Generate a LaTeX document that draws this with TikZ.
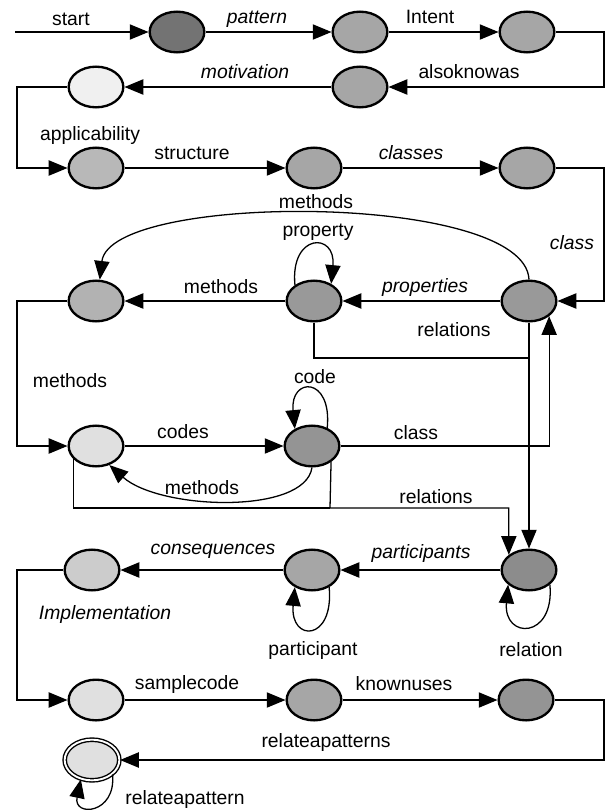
\documentclass[tikz,border=0pt]{standalone}
\usepackage{fontspec}
\setmainfont{Liberation Sans}
\usetikzlibrary{shapes.geometric,arrows.meta}
\begin{document}
\begin{tikzpicture}[x=0.03cm,y=-0.03cm,
	st/.style={ellipse,draw,line width=2pt,minimum width=1.64cm,minimum height=1.22cm,inner sep=0pt},
	dk/.style={st,fill=black!55},
	md/.style={st,fill=black!35},
	lt/.style={st,fill=black!12},
	lbl/.style={font=\fontsize{16.5}{18}\selectfont,inner sep=0pt},
	ilbl/.style={inner sep=0pt,font=\fontsize{16.5}{18}\selectfont\itshape},
	arr/.style={-{Triangle[length=16pt,width=13pt]},line width=1.1pt},
	ln/.style={line width=1.1pt}]
				\useasboundingbox (0,0) rectangle (611,810);

				% states
				\node[dk] (A) at (177,32) {};
				\node[md] (B) at (360,32) {};
				\node[md] (C) at (527,32) {};
				\node[md] (D) at (360,87) {};
				\node[lt,fill=black!6] (E) at (96,87) {};
				\node[md,fill=black!28] (F) at (96,168) {};
				\node[md] (G) at (314,168) {};
				\node[md] (H) at (527,168) {};
				\node[md,fill=black!40] (I) at (529,301) {};
				\node[md,fill=black!40] (J) at (314,301) {};
				\node[md,fill=black!30] (K) at (96,301) {};
				\node[lt] (L) at (96,446) {};
				\node[md,fill=black!42] (M) at (312,446) {};
				\node[dk,fill=black!45] (N) at (529,570) {};
				\node[md] (O) at (312,570) {};
				\node[lt,fill=black!20] (P) at (92,570) {};
				\node[lt] (Q) at (96,700) {};
				\node[md] (R) at (314,700) {};
				\node[md,fill=black!42] (S) at (526,700) {};
				\node[lt,double=white,double distance=1.6pt,line width=1.2pt] (T) at (92,760) {};

				\coordinate (s0) at (15,32);
				\coordinate (rr) at (604,0);
				\coordinate (lr) at (17,0);
				\coordinate (j1) at (529,358);
				\coordinate (j2) at (330,508);

				% labels
				\node[lbl] (lstart) at (71,19) {start};
				\node[ilbl] (lpat) at (257,19) {pattern};
				\node[lbl] (lint) at (430,17) {Intent};
				\node[ilbl] (lmot) at (245,72) {motivation};
				\node[lbl] (laka) at (469,72) {alsoknowas};
				\node[lbl] (lapp) at (90,135) {applicability};
				\node[lbl] (lstr) at (192,153) {structure};
				\node[ilbl] (lcls) at (411,153) {classes};
				\node[lbl] (lmeth1) at (316,202) {methods};
				\node[lbl] (lprop) at (318,232) {property};
				\node[ilbl] (lclass1) at (572,243) {class};
				\node[lbl] (lmeth2) at (221,287) {methods};
				\node[ilbl] (lprops) at (425,287) {properties};
				\node[lbl] (lrel1) at (454,330) {relations};
				\node[lbl] (lmeth3) at (70,381) {methods};
				\node[lbl] (lcode) at (315,377) {code};
				\node[lbl] (lcodes) at (183,432) {codes};
				\node[lbl] (lclass2) at (416,433) {class};
				\node[lbl] (lmeth4) at (202,488) {methods};
				\node[lbl] (lrel2) at (436,497) {relations};
				\node[ilbl] (lparts) at (421,553) {participants};
				\node[ilbl] (lcons) at (213,551) {consequences};
				\node[ilbl] (limpl) at (105,614) {Implementation};
				\node[lbl] (lpart) at (313,650) {participant};
				\node[lbl] (lrel3) at (531,650) {relation};
				\node[lbl] (lsamp) at (187,684) {samplecode};
				\node[lbl] (lknown) at (404,684) {knownuses};
				\node[lbl] (lrelps) at (326,742) {relateapatterns};
				\node[lbl] (lrelp) at (185,799) {relateapattern};

				% transitions
				\draw[arr] (s0) -- (A);
				\draw[arr] (A) -- (B);
				\draw[arr] (B) -- (C);
				\draw[arr] (C.east) -- (C.east -| rr) |- (D);
				\draw[arr] (D) -- (E);
				\draw[arr] (E.west) -- (E.west -| lr) |- (F);
				\draw[arr] (F) -- (G);
				\draw[arr] (G) -- (H);
				\draw[arr] (H.east) -- (H.east -| rr) |- (I);
				\draw[arr] (I) -- (J);
				\draw[arr] (J) -- (K);
				\draw[arr] (I.north) .. controls (525,192) and (110,192) .. (K.80);
				\draw[arr] (J.140) .. controls +(-5,-52) and +(5,-52) .. (J.45);
				\draw[ln] (J.south) |- (j1);
				\draw[arr] (I.south) -- (N.north);
				\draw[arr] (K.west) -- (K.west -| lr) |- (L);
				\draw[arr] (L) -- (M);
				\draw[arr] (M.50) .. controls +(5,-52) and +(-5,-52) .. (M.135);
				\draw[arr] (M.south) .. controls (305,515) and (160,510) .. (L.-55);
				\draw[ln] (L.210) |- (j2);
				\draw[arr] (M.320) -- (j2) -| (N.north west);
				\draw[arr] (M.east) -| (I.south east);
				\draw[arr] (N) -- (O);
				\draw[arr] (O) -- (P);
				\draw[arr] (O.-45) .. controls +(5,55) and +(-5,55) .. (O.-135);
				\draw[arr] (N.-35) .. controls +(5,55) and +(-5,55) .. (N.-145);
				\draw[arr] (P.west) -- (P.west -| lr) |- (Q);
				\draw[arr] (Q) -- (R);
				\draw[arr] (R) -- (S);
				\draw[arr] (S.east) -- (S.east -| rr) |- (T);
				\draw[arr] (T.-35) .. controls +(4,40) and +(-8,38) .. (T.-120);
\end{tikzpicture}
\end{document}
